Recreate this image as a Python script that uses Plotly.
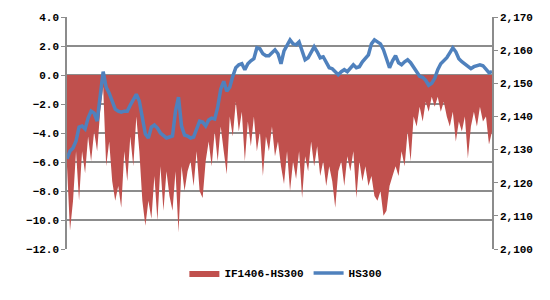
import plotly.graph_objects as go

# Basis IF1406 - HS300 (points)
basis = [
    -6.29, -10.74, -8.68, -5.26, -8.68, -5.26, -6.77, -4.24, -5.95, -3.90,
    -5.26, -2.53, -0.82, -6.29, -4.58, -7.32, -8.68, -7.66, -9.16, -5.26,
    -7.32, -4.24, -6.29, -2.87, -5.26, -8.68, -10.39, -8.68, -9.91, -6.97,
    -10.05, -6.29, -9.37, -6.63, -8.34, -9.37, -6.63, -10.87, -6.29, -8.00,
    -6.63, -5.95, -7.66, -5.26, -8.00, -8.48, -5.95, -4.58, -6.29, -3.90,
    -5.95, -3.56, -5.26, -6.84, -2.87, -4.24, -1.85, -3.90, -2.53, -5.95,
    -3.21, -4.92, -2.87, -5.26, -3.90, -6.97, -4.24, -5.26, -3.56, -5.61,
    -4.58, -6.29, -7.52, -5.26, -8.00, -5.95, -7.18, -5.26, -8.48, -5.61,
    -6.63, -4.58, -6.29, -4.92, -6.97, -5.95, -7.66, -6.29, -7.32, -9.16,
    -6.63, -5.95, -7.66, -5.61, -6.63, -5.26, -8.48, -5.95, -7.32, -6.29,
    -7.66, -6.97, -8.34, -8.68, -8.00, -9.71, -9.37, -7.66, -6.97, -6.29,
    -6.97, -5.26, -6.29, -3.90, -5.95, -2.87, -3.56, -2.19, -3.21, -1.85,
    -2.53, -1.50, -2.19, -1.50, -2.53, -1.85, -2.87, -3.56, -2.53, -4.58,
    -3.21, -3.90, -2.87, -5.74, -3.56, -2.53, -3.56, -2.19, -3.21, -2.87,
    -4.79, -3.90,
]

# HS300 index level
hs300 = [
    2127.2, 2129.6, 2130.5, 2132.6, 2136.8, 2137.1, 2136.2, 2139.5, 2141.6, 2141.0,
    2138.6, 2146.7, 2153.5, 2148.8, 2147.0, 2144.6, 2142.2, 2141.6, 2141.3, 2141.6,
    2141.6, 2143.4, 2145.2, 2146.7, 2144.6, 2140.1, 2134.7, 2133.5, 2136.8, 2137.4,
    2136.5, 2135.0, 2134.4, 2133.5, 2133.8, 2134.1, 2141.6, 2145.8, 2137.1, 2134.4,
    2134.1, 2133.5, 2133.8, 2136.2, 2138.6, 2138.3, 2137.1, 2138.9, 2139.5, 2139.2,
    2142.8, 2148.2, 2150.6, 2147.6, 2148.8, 2152.1, 2154.7, 2155.6, 2155.9, 2154.1,
    2155.9, 2156.8, 2157.4, 2160.7, 2160.4, 2158.9, 2158.3, 2158.3, 2159.2, 2160.1,
    2158.9, 2155.9, 2159.8, 2161.3, 2163.1, 2161.9, 2161.6, 2162.5, 2159.5, 2157.1,
    2157.7, 2159.5, 2161.0, 2159.5, 2157.7, 2158.0, 2156.5, 2154.7, 2154.4, 2153.5,
    2152.6, 2153.5, 2154.1, 2153.5, 2154.4, 2155.6, 2154.7, 2155.0, 2156.5, 2157.7,
    2158.6, 2161.9, 2163.1, 2162.5, 2161.9, 2160.1, 2157.1, 2154.7, 2156.8, 2158.3,
    2156.2, 2155.6, 2156.5, 2157.1, 2156.2, 2154.7, 2153.5, 2152.1, 2151.8, 2150.9,
    2149.4, 2150.0, 2151.5, 2154.1, 2155.9, 2156.8, 2157.7, 2159.2, 2160.7, 2159.5,
    2157.4, 2156.5, 2155.9, 2155.0, 2154.4, 2155.0, 2155.3, 2155.6, 2155.3, 2154.4,
    2153.2, 2153.5,
]

x = list(range(len(basis)))

left_ticks = [-12, -10, -8, -6, -4, -2, 0, 2, 4]
right_ticks = [2100, 2110, 2120, 2130, 2140, 2150, 2160, 2170]

FONT = "Liberation Mono"
GRID = "#8c8c8c"
tfont = dict(family=FONT, size=11, color="black", weight="bold")

fig = go.Figure()
fig.add_trace(go.Scatter(
    x=x, y=basis, name="IF1406-HS300", mode="lines",
    line=dict(width=0, color="#C0504D"), fill="tozeroy", fillcolor="#C0504D",
    yaxis="y",
))
fig.add_trace(go.Scatter(
    x=x, y=hs300, name="HS300", mode="lines",
    line=dict(width=3.5, color="#4F81BD"), yaxis="y2",
))

fig.update_layout(
    width=550, height=300,
    margin=dict(l=67, r=58, t=15, b=51),
    paper_bgcolor="white", plot_bgcolor="white",
    font=dict(family=FONT, size=11, color="black"),
    showlegend=True,
    legend=dict(orientation="h", x=0.515, xanchor="center", y=-0.103, yanchor="middle",
                font=tfont, itemwidth=30,
                tracegroupgap=0, bgcolor="rgba(0,0,0,0)"),
    xaxis=dict(range=[0, len(basis) - 1], showgrid=False, zeroline=False,
               showticklabels=False, showline=False, ticks=""),
    yaxis=dict(range=[-12, 4], tickvals=left_ticks, tickformat=".1f",
               showgrid=True, gridcolor=GRID, gridwidth=1.5, zeroline=False,
               showline=True, linecolor=GRID, linewidth=1.5,
               ticks="outside", ticklen=4, tickcolor=GRID, tickwidth=1,
               tickfont=tfont),
    yaxis2=dict(range=[2100, 2170], tickvals=right_ticks, tickformat=",d",
                overlaying="y", side="right", showgrid=False, zeroline=False,
                showline=True, linecolor=GRID, linewidth=1.5,
                ticks="outside", ticklen=4, tickcolor=GRID, tickwidth=1,
                tickfont=tfont),
)

fig.write_html("out.html")
